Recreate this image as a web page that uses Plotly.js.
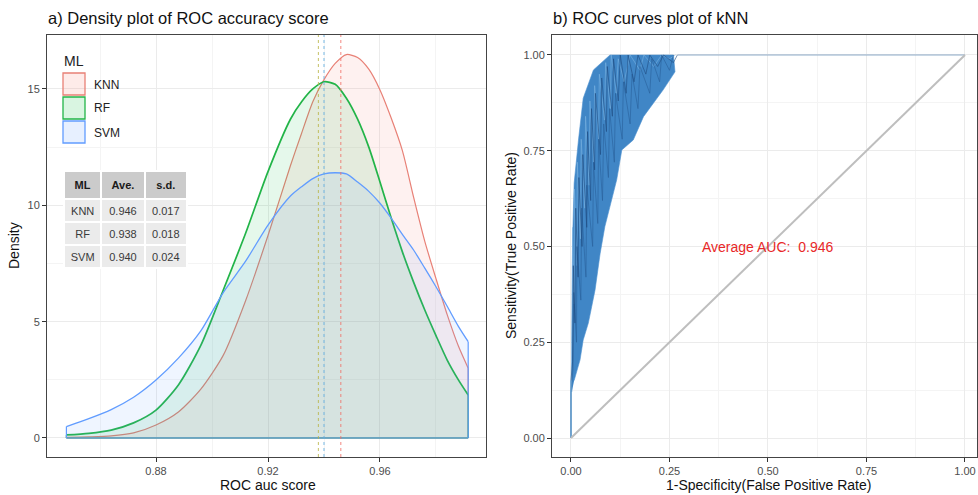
<!DOCTYPE html>
<html><head><meta charset="utf-8">
<script src="https://cdn.plot.ly/plotly-3.0.1.min.js"></script>
<style>html,body{margin:0;padding:0;background:#fff}#chart{width:978px;height:495px}</style>
</head><body><div id="chart"></div>
<script>
// ---------- Panel a) data ----------
const scoreX = [0.848,0.856,0.864,0.872,0.880,0.888,0.896,0.904,0.912,0.920,0.928,0.932,0.936,0.940,0.944,0.948,0.952,0.956,0.960,0.964,0.968,0.972,0.976,0.980,0.984,0.988,0.9915];
const knnDensity = [0.03,0.05,0.09,0.22,0.56,1.12,2.10,3.55,5.9,8.7,11.7,13.1,14.45,15.4,16.1,16.48,16.35,15.85,14.96,13.75,12.35,10.35,8.45,6.85,5.3,3.95,3.0];
const rfDensity  = [0.13,0.20,0.34,0.65,1.20,2.28,3.98,6.35,8.8,11.45,13.7,14.45,15.0,15.31,15.2,14.6,13.7,12.5,11.0,9.45,8.0,6.7,5.5,4.4,3.35,2.5,1.85];
const svmDensity = [0.49,0.83,1.22,1.75,2.49,3.43,4.60,6.25,7.6,9.15,10.4,10.8,11.15,11.35,11.40,11.35,11.0,10.6,10.09,9.45,8.75,8.08,7.3,6.5,5.66,4.8,4.14];
const models = ['KNN','RF','SVM'];
const meanAUC = [0.946, 0.938, 0.940];
const sdAUC = [0.017, 0.018, 0.024];
const tableHeader = ['ML','Ave.','s.d.'];
const xTicksA = [0.88, 0.92, 0.96];
const yTicksA = [0, 5, 10, 15];

// ---------- Panel b) data ----------
const bandUpperFpr = [0.002,0.002,0.004,0.008,0.019,0.031,0.057,0.099];
const bandUpperTpr = [0.12,0.256,0.517,0.665,0.778,0.887,0.961,1.0];
const bandLowerFpr = [0.008,0.023,0.031,0.044,0.061,0.074,0.086,0.116,0.129,0.158,0.184,0.234,0.264,0.26];
const bandLowerTpr = [0.15,0.204,0.256,0.30,0.386,0.482,0.552,0.674,0.752,0.778,0.839,0.909,0.956,1.0];
const roc1Fpr = [0,0,0.004,0.006,0.01,0.012,0.018,0.02,0.028,0.03,0.04,0.042,0.05,0.052,0.06,0.062,0.075,0.078,0.09,0.092,0.105,0.108,0.12,0.125,0.14,0.145,0.16,0.17,0.19,0.2,0.22,0.235,0.26,0.27];
const roc1Tpr = [0,0.15,0.2,0.45,0.3,0.6,0.42,0.68,0.5,0.74,0.55,0.8,0.62,0.86,0.7,0.9,0.74,0.94,0.8,0.97,0.84,0.99,0.88,1.0,0.9,1.0,0.93,1.0,0.95,1.0,0.97,1.0,0.98,1.0];
const roc2Fpr = [0,0,0.003,0.004,0.008,0.009,0.015,0.016,0.024,0.026,0.035,0.037,0.046,0.048,0.058,0.06,0.07,0.072,0.085,0.088,0.1,0.102,0.115,0.12,0.135,0.15,0.175,0.185,0.21,0.23,0.25,0.265];
const roc2Tpr = [0,0.15,0.25,0.55,0.35,0.65,0.45,0.72,0.52,0.78,0.6,0.84,0.66,0.88,0.72,0.92,0.78,0.95,0.83,0.98,0.86,1.0,0.9,0.99,0.93,1.0,0.96,1.0,0.97,1.0,0.99,1.0];
const roc3Fpr = [0,0,0.005,0.007,0.014,0.015,0.025,0.027,0.038,0.04,0.055,0.057,0.068,0.07,0.08,0.083,0.095,0.098,0.11,0.113,0.13,0.133,0.15,0.155,0.17,0.175,0.2,0.205,0.225,0.23,0.25,0.26];
const roc3Tpr = [0,0.12,0.18,0.38,0.25,0.5,0.36,0.6,0.42,0.66,0.5,0.72,0.56,0.78,0.62,0.82,0.68,0.86,0.72,0.9,0.78,0.93,0.82,0.95,0.86,0.97,0.9,0.99,0.93,1.0,0.96,1.0];
const rocTailFpr = [0.27, 1.0];
const rocTailTpr = [1.0, 1.0];
const rocStartFpr = [0, 0];
const rocStartTpr = [0, 0.15];
const diagFpr = [0, 1];
const diagTpr = [0, 1];
const aucLabel = 'Average AUC:  0.946';
const aucLabelPos = [0.5, 0.5];
const xTicksB = [0, 0.25, 0.5, 0.75, 1.0];
const yTicksB = [0, 0.25, 0.5, 0.75, 1.0];

// ---------- styles ----------
const FONT = 'Liberation Sans, Arial, sans-serif';
const W = 978, H = 495;
const px = v => v / W;
const py = v => 1 - v / H;
const lineCols = ['rgb(232,128,118)', 'rgb(34,180,72)', 'rgb(97,156,255)'];
const fillCols = ['rgba(248,118,109,0.1)', 'rgba(0,186,56,0.1)', 'rgba(97,156,255,0.1)'];
const meanCols = ['rgba(240,110,100,0.75)', 'rgba(185,180,70,0.75)', 'rgba(100,175,225,0.8)'];
const lineW = [1.2, 1.7, 1.3];

const densities = [knnDensity, rfDensity, svmDensity];
const traces = [];
const N = scoreX.length - 1;
densities.forEach((d, i) => {
  traces.push({
    type: 'scatter', mode: 'lines', xaxis: 'x', yaxis: 'y',
    x: scoreX, y: d, fill: 'tozeroy', fillcolor: fillCols[i],
    line: { color: lineCols[i], width: lineW[i], shape: 'spline', smoothing: 0.7 },
    name: models[i], showlegend: false, hoverinfo: 'skip'
  });
  traces.push({
    type: 'scatter', mode: 'lines', xaxis: 'x', yaxis: 'y',
    x: [scoreX[0], scoreX[0], null, scoreX[N], scoreX[N], null, scoreX[0], scoreX[N]],
    y: [0, d[0], null, 0, d[N], null, 0, 0],
    line: { color: lineCols[i], width: 1.2 }, showlegend: false, hoverinfo: 'skip'
  });
});

// Table
traces.push({
  type: 'table',
  domain: { x: [px(64), px(188)], y: [py(285), py(171)] },
  columnwidth: [37, 43, 42],
  header: {
    values: tableHeader.map(t => '<b>' + t + '</b>'),
    fill: { color: '#CBCBCB' }, line: { color: 'white', width: 2 },
    font: { family: FONT, size: 11, color: '#1a1a1a' }, height: 23, align: 'center'
  },
  cells: {
    values: [models, meanAUC, sdAUC], format: ['', '.3f', '.3f'],
    fill: { color: '#EBEBEB' }, line: { color: 'white', width: 2 },
    font: { family: FONT, size: 11, color: '#3a3a3a' }, height: 23, align: 'center'
  }
});

// ROC band
traces.push({
  type: 'scatter', mode: 'lines', xaxis: 'x2', yaxis: 'y2',
  x: bandUpperFpr.concat(bandLowerFpr.slice().reverse()),
  y: bandUpperTpr.concat(bandLowerTpr.slice().reverse()),
  fill: 'toself', fillcolor: 'rgb(64,134,198)',
  line: { color: 'rgb(75,145,208)', width: 0.6 }, showlegend: false, hoverinfo: 'skip'
});
[[roc2Fpr, roc2Tpr, 'rgb(120,178,225)'], [roc3Fpr, roc3Tpr, 'rgb(40,95,155)'], [roc1Fpr, roc1Tpr, 'rgb(30,75,130)']].forEach(r => {
  traces.push({
    type: 'scatter', mode: 'lines', xaxis: 'x2', yaxis: 'y2',
    x: r[0], y: r[1], line: { color: r[2], width: 0.6 }, showlegend: false, hoverinfo: 'skip'
  });
});
traces.push({ type: 'scatter', mode: 'lines', xaxis: 'x2', yaxis: 'y2', x: rocTailFpr, y: rocTailTpr,
  line: { color: 'rgb(140,170,200)', width: 1 }, showlegend: false, hoverinfo: 'skip' });
traces.push({ type: 'scatter', mode: 'lines', xaxis: 'x2', yaxis: 'y2', x: rocStartFpr, y: rocStartTpr,
  line: { color: 'rgb(110,175,225)', width: 1 }, showlegend: false, hoverinfo: 'skip' });
traces.push({ type: 'scatter', mode: 'lines', xaxis: 'x2', yaxis: 'y2', x: diagFpr, y: diagTpr,
  line: { color: 'rgb(190,190,190)', width: 2 }, showlegend: false, hoverinfo: 'skip' });

// ---------- axes ----------
const baseAxis = {
  showline: true, mirror: true, linecolor: '#444', linewidth: 1,
  ticks: 'outside', ticklen: 4, tickwidth: 1, tickcolor: '#333',
  showgrid: true, gridcolor: '#EBEBEB', gridwidth: 1, zeroline: false,
  tickfont: { family: FONT, size: 11, color: '#4D4D4D' }, automargin: false, fixedrange: true
};

const shapes = [];
meanAUC.forEach((m, i) => {
  shapes.push({ type: 'line', xref: 'x', yref: 'y domain', x0: m, x1: m, y0: 0, y1: 1,
    line: { color: meanCols[i], width: 1.1, dash: '3px,3px' }, layer: 'above' });
});
const legendTop = [73, 97, 121];
const annotations = [];
models.forEach((m, i) => {
  shapes.push({ type: 'rect', xref: 'paper', yref: 'paper',
    x0: px(63), x1: px(85), y0: py(legendTop[i] + 22), y1: py(legendTop[i]),
    fillcolor: fillCols[i].replace('0.1)', '0.15)'), line: { color: lineCols[i], width: 1.3 } });
  annotations.push({ xref: 'paper', yref: 'paper', x: px(92), y: py(legendTop[i] + 11.5),
    xanchor: 'left', yanchor: 'middle', text: m, showarrow: false,
    font: { family: FONT, size: 12, color: '#222' } });
});
annotations.push({ xref: 'paper', yref: 'paper', x: px(62), y: py(61), xanchor: 'left', yanchor: 'middle',
  text: 'ML', showarrow: false, font: { family: FONT, size: 14, color: '#222' } });
annotations.push({ xref: 'paper', yref: 'paper', x: px(46), y: py(18), xanchor: 'left', yanchor: 'middle',
  text: 'a) Density plot of ROC accuracy score', showarrow: false, font: { family: FONT, size: 16.5, color: '#111' } });
annotations.push({ xref: 'paper', yref: 'paper', x: px(551), y: py(18), xanchor: 'left', yanchor: 'middle',
  text: 'b) ROC curves plot of kNN', showarrow: false, font: { family: FONT, size: 16.5, color: '#111' } });
annotations.push({ xref: 'paper', yref: 'paper', x: px(268), y: py(485), xanchor: 'center', yanchor: 'middle',
  text: 'ROC auc score', showarrow: false, font: { family: FONT, size: 14, color: '#111' } });
annotations.push({ xref: 'paper', yref: 'paper', x: px(768), y: py(485), xanchor: 'center', yanchor: 'middle',
  text: '1-Specificity(False Positive Rate)', showarrow: false, font: { family: FONT, size: 14, color: '#111' } });
annotations.push({ xref: 'paper', yref: 'paper', x: px(14), y: py(246), xanchor: 'center', yanchor: 'middle',
  text: 'Density', textangle: -90, showarrow: false, font: { family: FONT, size: 14, color: '#111' } });
annotations.push({ xref: 'paper', yref: 'paper', x: px(511), y: py(246), xanchor: 'center', yanchor: 'middle',
  text: 'Sensitivity(True Positive Rate)', textangle: -90, showarrow: false, font: { family: FONT, size: 14, color: '#111' } });
annotations.push({ xref: 'x2', yref: 'y2', x: aucLabelPos[0], y: aucLabelPos[1], xanchor: 'center', yanchor: 'middle',
  text: aucLabel, showarrow: false, font: { family: FONT, size: 14, color: 'rgb(232,40,40)' } });

const layout = {
  width: W, height: H, margin: { l: 0, r: 0, t: 0, b: 0 },
  paper_bgcolor: 'white', plot_bgcolor: 'white', showlegend: false,
  font: { family: FONT },
  xaxis: Object.assign({}, baseAxis, { domain: [px(47), px(486)], range: [0.84107, 0.99786], anchor: 'y',
    tickvals: xTicksA, ticktext: xTicksA.map(v => v.toFixed(2)),
    minor: { dtick: 0.02, tick0: 0.86, showgrid: true, gridcolor: '#F4F4F4', gridwidth: 1 } }),
  yaxis: Object.assign({}, baseAxis, { domain: [1 - 457 / H, 1 - 35 / H], range: [-0.817, 17.32], anchor: 'x',
    tickvals: yTicksA, ticktext: yTicksA.map(String),
    minor: { dtick: 2.5, tick0: 2.5, showgrid: true, gridcolor: '#F4F4F4', gridwidth: 1 } }),
  xaxis2: Object.assign({}, baseAxis, { domain: [px(552), px(977)], range: [-0.0482, 1.0305], anchor: 'y2',
    tickvals: xTicksB, ticktext: xTicksB.map(v => v.toFixed(2)),
    minor: { dtick: 0.125, tick0: 0.125, showgrid: true, gridcolor: '#F4F4F4', gridwidth: 1 } }),
  yaxis2: Object.assign({}, baseAxis, { domain: [1 - 457 / H, 1 - 35 / H], range: [-0.0496, 1.0522], anchor: 'x2',
    tickvals: yTicksB, ticktext: yTicksB.map(v => v.toFixed(2)),
    minor: { dtick: 0.125, tick0: 0.125, showgrid: true, gridcolor: '#F4F4F4', gridwidth: 1 } }),
  shapes: shapes, annotations: annotations
};

Plotly.newPlot('chart', traces, layout, { displayModeBar: false, staticPlot: true });
</script>
</body></html>
